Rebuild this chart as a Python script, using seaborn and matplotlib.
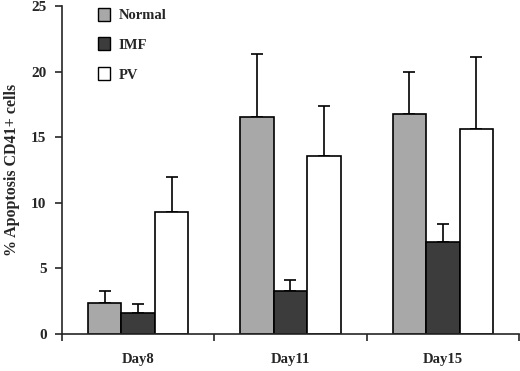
import numpy as np
import pandas as pd
import matplotlib
matplotlib.use("Agg")
import matplotlib.pyplot as plt
import seaborn as sns
from matplotlib.patches import Patch

days = ["Day8", "Day11", "Day15"]
groups = ["Normal", "IMF", "PV"]
normal_vals = [2.4, 16.5, 16.8]
imf_vals = [1.6, 3.3, 7.0]
pv_vals = [9.3, 13.6, 15.6]
normal_err = [0.85, 4.8, 3.2]
imf_err = [0.7, 0.8, 1.35]
pv_err = [2.7, 3.8, 5.5]
yticks = [0, 5, 10, 15, 20, 25]

COLORS = {"Normal": "#a8a8a8", "IMF": "#3c3c3c", "PV": "#ffffff"}

sns.set_style("ticks")
plt.rcParams["font.family"] = ["Liberation Serif", "DejaVu Serif"]
plt.rcParams["font.weight"] = "bold"

df = pd.DataFrame({
    "day": days * 3,
    "group": [g for g in groups for _ in days],
    "value": normal_vals + imf_vals + pv_vals,
    "err": normal_err + imf_err + pv_err,
})

fig = plt.figure(figsize=(5.2, 3.71), dpi=100)
ax = fig.add_axes([0.119, 0.0997, 0.879, 0.8843])

sns.barplot(data=df, x="day", y="value", hue="group", order=days,
            hue_order=groups, palette=COLORS, width=0.66, errorbar=None,
            edgecolor="black", linewidth=1.2, saturation=1, ax=ax, legend=False)

# error bars (upper side only) at the bar centres
for container, g in zip(ax.containers, groups):
    sub = df[df["group"] == g].set_index("day").loc[days]
    xs = [p.get_x() + p.get_width() / 2 for p in container.patches]
    ax.errorbar(xs, sub["value"], yerr=[np.zeros(len(days)), sub["err"]],
                fmt="none", ecolor="black", elinewidth=1.2, capsize=4,
                capthick=1.2, zorder=0)

ax.set_ylim(0, 25)
ax.set_xlim(-0.5, 2.5)
ax.set_yticks(yticks)
ax.set_xticks([-0.5, 0.5, 1.5, 2.5], minor=True)
ax.tick_params(axis="x", which="major", length=0, pad=14, labelsize=10.5)
ax.tick_params(axis="x", which="minor", length=5, width=1.2, direction="out")
ax.tick_params(axis="y", length=5, width=1.2, labelsize=11, pad=6)
for lab in ax.get_xticklabels() + ax.get_yticklabels():
    lab.set_fontweight("bold")
ax.set_xlabel("")
ax.set_ylabel("% Apoptosis CD41+ cells", fontsize=11.5, fontweight="bold", labelpad=8)
sns.despine(ax=ax)
for s in ["left", "bottom"]:
    ax.spines[s].set_linewidth(1.2)

handles = [Patch(facecolor=COLORS[g], edgecolor="black", linewidth=1.0) for g in groups]
ax.legend(handles, groups, loc="upper left", bbox_to_anchor=(0.05, 1.035),
          frameon=False, handlelength=0.8, handleheight=1.0, handletextpad=0.6,
          labelspacing=1.05, prop={"weight": "bold", "size": 10.5})

fig.savefig("out.png", dpi=100)
